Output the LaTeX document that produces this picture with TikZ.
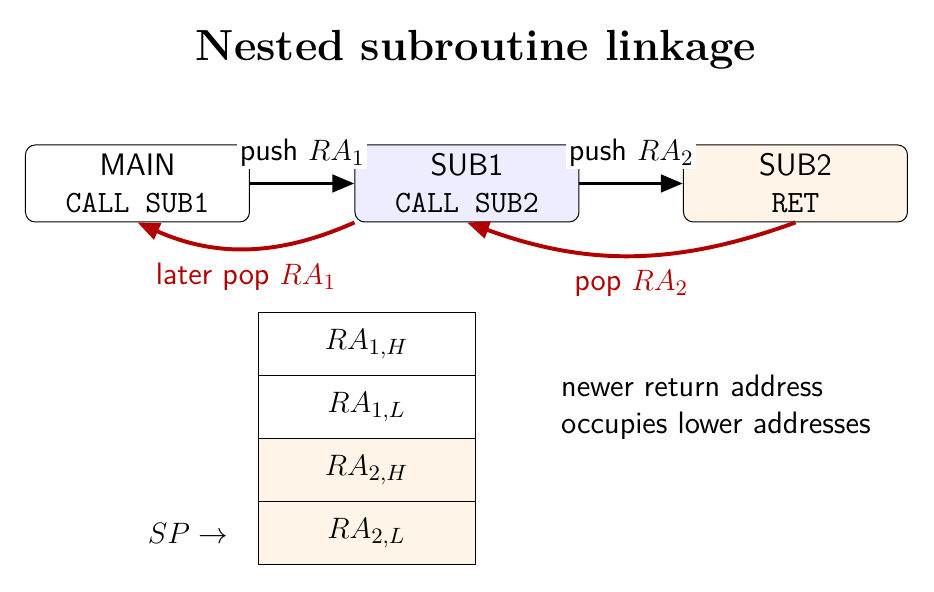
\documentclass[tikz,border=0pt]{standalone}
\usetikzlibrary{arrows.meta}
\usepackage{amsmath}

\newcommand{\bodyfont}{\fontsize{12.6}{15}\selectfont}

\begin{document}
\begin{tikzpicture}[
		scale=1.0,
		routine/.style={rectangle,rounded corners=4pt,draw=black,
		minimum width=3.2cm,minimum height=1.1cm,align=center,font=\bodyfont\sffamily},
		cell/.style={rectangle,draw=black,minimum width=3.1cm,minimum height=0.9cm,
		inner sep=0pt,font=\bodyfont},
		push/.style={>={Triangle[length=9pt,width=7pt]},draw=black,ultra thick,->},
		pop/.style={>={Triangle[length=9pt,width=7pt]},draw=red!70!black,ultra thick,->},
		poplabel/.style={text=red!70!black,font=\bodyfont\sffamily}
		]
		\useasboundingbox (0,0) rectangle (13.343,8.457);
		\node[font=\fontsize{17.7}{21}\selectfont\bfseries] (title) at (6.8,7.74) {Nested subroutine linkage};
		% the three routines
		\node[routine] (main) at (1.964,5.836) {MAIN\\[0pt]\texttt{CALL SUB1}};
		\node[routine,fill=blue!7] (sub1) at (6.671,5.836) {SUB1\\[0pt]\texttt{CALL SUB2}};
		\node[routine,fill=orange!9] (sub2) at (11.364,5.836) {SUB2\\[0pt]\texttt{RET}};
		\draw[push] (main) -- (sub1) node[midway,above=5pt,fill=white,inner sep=1pt,
			font=\bodyfont\sffamily] {push $RA_1$};
		\draw[push] (sub1) -- (sub2) node[midway,above=5pt,fill=white,inner sep=1pt,
			font=\bodyfont\sffamily] {push $RA_2$};
		\draw[pop] (sub1.south west) to[bend left=24]
			node[midway,below=2pt,poplabel] {later pop $RA_1$} (main.south);
		\draw[pop] (sub2.south) to[bend left=20]
			node[midway,below=2pt,poplabel] {pop $RA_2$} (sub1.south);
		% the stack
		\node[cell] (c1) at (5.236,3.536) {$RA_{1,H}$};
		\node[cell] (c2) at (5.236,2.636) {$RA_{1,L}$};
		\node[cell,fill=orange!9] (c3) at (5.236,1.736) {$RA_{2,H}$};
		\node[cell,fill=orange!9] (c4) at (5.236,0.836) {$RA_{2,L}$};
		\node[left=3mm,font=\bodyfont] (sp) at (c4.west) {$SP \rightarrow$};
		\node[right=11mm,align=left,font=\bodyfont\sffamily] (note) at (c2.east)
			{newer return address\\occupies lower addresses};
	\end{tikzpicture}
\end{document}
